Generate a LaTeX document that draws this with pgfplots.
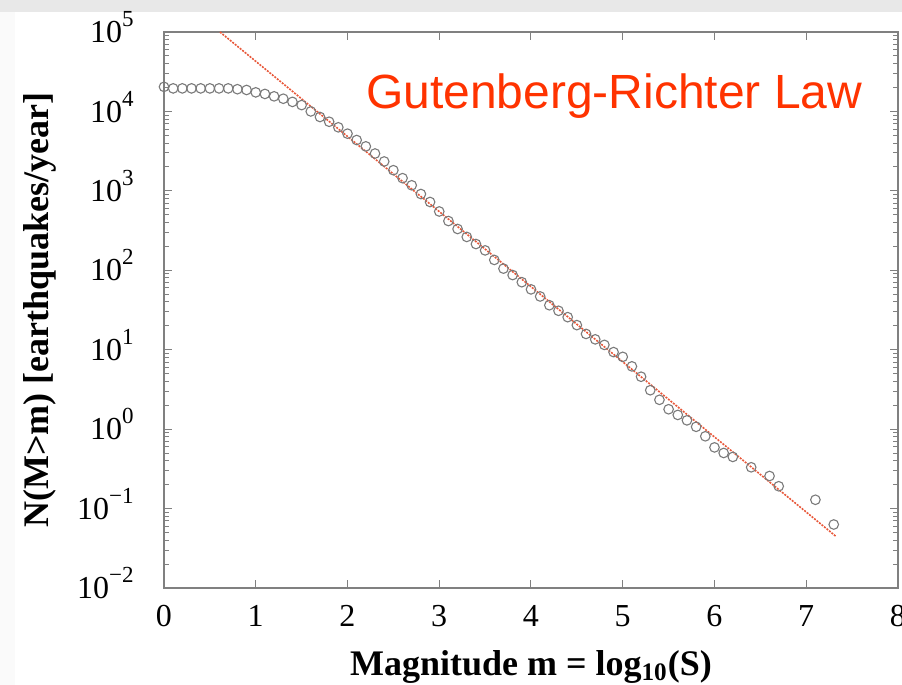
\documentclass[border=0pt]{standalone}
\usepackage{pgfplots}
\usepackage{pgfplotstable}
\pgfplotsset{compat=1.18}
\usepackage{fontspec}
\setmainfont{Liberation Serif}
\newfontfamily\arialfont{Liberation Sans}
\definecolor{grlaw}{HTML}{FF3300}
\definecolor{fitline}{HTML}{E8583A}
\definecolor{axgray}{HTML}{808080}
\definecolor{markgray}{HTML}{7A7A7A}
\newcommand{\tp}[1]{10\raisebox{0.5em}{\fontsize{11.5}{13}\selectfont #1}}

\pgfplotstableread{
m N
0.0 20400
0.1 19500
0.2 19500
0.3 19500
0.4 19500
0.5 19500
0.6 19500
0.7 19500
0.8 19050
0.9 18620
1.0 17380
1.1 16600
1.2 15490
1.3 14450
1.4 13180
1.5 12020
1.6 10000
1.7 8511
1.8 7413
1.9 6310
2.0 5248
2.1 4365
2.2 3631
2.3 2951
2.4 2344
2.5 1820
2.6 1445
2.7 1175
2.8 912
2.9 724
3.0 550
3.1 417
3.2 331
3.3 263
3.4 214
3.5 178
3.6 135
3.7 105
3.8 87.1
3.9 70.8
4.0 57.5
4.1 46.8
4.2 36.3
4.3 30.9
4.4 25.7
4.5 20.4
4.6 15.8
4.7 13.5
4.8 11.5
4.9 9.33
5.0 8.13
5.1 6.17
5.2 4.57
5.3 3.09
5.4 2.34
5.5 1.78
5.6 1.51
5.7 1.29
5.8 1.07
5.9 0.813
6.0 0.589
6.1 0.501
6.2 0.447
6.4 0.331
6.6 0.257
6.7 0.191
7.1 0.129
7.3 0.063
}\grdata

\begin{document}
\begin{tikzpicture}
\fill[gray!18] (0,336.5pt) rectangle (451pt,342.5pt);
\fill[gray!4] (0,0) rectangle (7.5pt,336.5pt);
\begin{axis}[
  at={(82pt,48.5pt)}, anchor=south west,
  scale only axis, width=367pt, height=278pt,
  xmin=0, xmax=8, ymin=1e-2, ymax=1e5, ymode=log,
  xtick={0,1,2,3,4,5,6,7,8},
  ytick={1e-2,1e-1,1,1e1,1e2,1e3,1e4,1e5},
  yticklabels={\tp{−2},\tp{−1},\tp{0},\tp{1},\tp{2},\tp{3},\tp{4},\tp{5}},
  axis line style={axgray, line width=0.6pt},
  tick style={axgray, line width=0.5pt},
  major tick length=4pt, minor tick length=2.5pt,
  tick label style={font=\fontsize{16}{19}\selectfont, black},
  /pgf/number format/assume math mode=true,
  xticklabel style={yshift=-5pt},
  yticklabel style={anchor=base east, yshift=-5.3pt, xshift=-11.7pt},
  xlabel={Magnitude m = log\textsubscript{10}(S)},
  ylabel={N(M>m) [earthquakes/year]},
  every axis x label/.style={at={(axis description cs:0.5,-0.1565)}, anchor=base, font=\fontsize{18}{21}\selectfont\bfseries},
  every axis y label/.style={at={(axis description cs:-0.158,0.5)}, rotate=90, anchor=base, font=\fontsize{18}{21}\selectfont\bfseries},
]
\addplot[fitline, line width=0.8pt, dash pattern=on 1pt off 0.6pt] coordinates {(0.61,100000) (7.32,0.045)};
\addplot[only marks, mark=o, mark size=2.4pt, mark options={markgray, line width=0.55pt}] table[x=m, y=N] {\grdata};
\node[anchor=base, font=\arialfont\fontsize{24}{28}\selectfont, text=grlaw, inner sep=0pt] at (axis cs:4.908,11040) {Gutenberg-Richter Law};
\end{axis}
\pgfresetboundingbox
\useasboundingbox (0,0) rectangle (451pt,342.5pt);
\end{tikzpicture}
\end{document}
